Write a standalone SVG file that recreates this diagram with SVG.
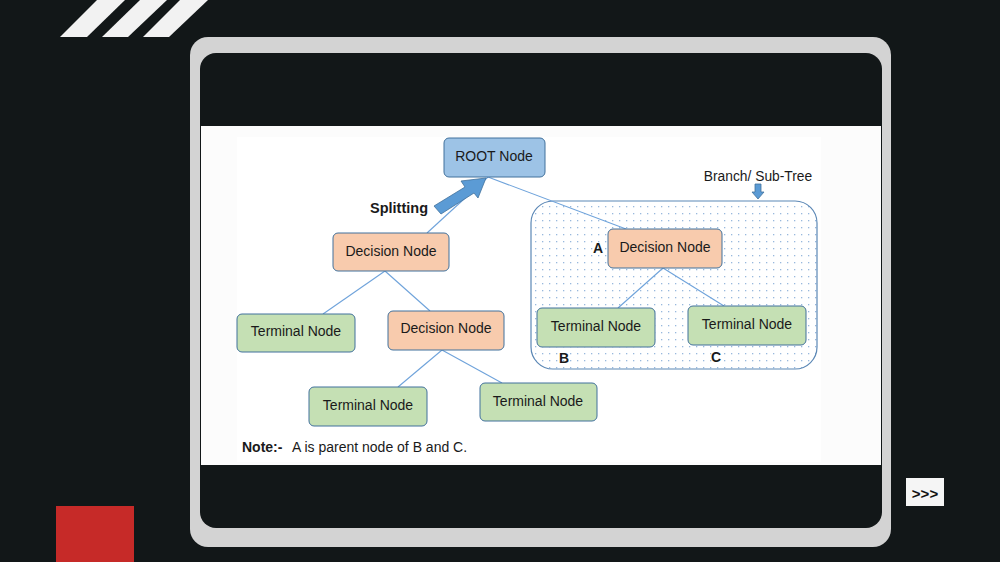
<svg xmlns="http://www.w3.org/2000/svg" width="1000" height="562" viewBox="0 0 1000 562">
<defs>
<style>
text{font-family:"Liberation Sans",Arial,sans-serif;font-size:14px;fill:#1a1a1a}
.lbl{text-anchor:middle;dominant-baseline:central}
.bold{font-weight:bold}
.conn{stroke:#6fa3db;stroke-width:1.1;fill:none}
.root{fill:#9dc3e6;stroke:#41719c;stroke-width:1}
.dec{fill:#f8cbad;stroke:#41719c;stroke-width:1}
.term{fill:#c5e0b4;stroke:#41719c;stroke-width:1}
.blue{fill:#5b9bd5;stroke:#41719c;stroke-width:0.8}
</style>
<pattern id="dots" width="7" height="7" patternUnits="userSpaceOnUse">
<rect x="3" y="3" width="1.3" height="1.3" fill="#98b8dd"/>
</pattern>
</defs>
<rect width="1000" height="562" fill="#121718"/>
<g id="stripes" fill="#f2f2f2">
<polygon points="60,37 87,37 125,0 97,0"/>
<polygon points="102,37 128,37 167,0 140,0"/>
<polygon points="143,37 169,37 208,0 180,0"/>
</g>
<rect x="56" y="506" width="78" height="56" fill="#c62a28"/>
<g id="button">
<rect x="906" y="478" width="38" height="28" fill="#f5f5f5"/>
<text x="925" y="493" class="lbl bold" style="font-size:15px;fill:#111">&gt;&gt;&gt;</text>
</g>
<g id="frame">
<rect x="190" y="37" width="701" height="510" rx="18" fill="#d3d3d3"/>
<rect x="200" y="53" width="682" height="475" rx="16" fill="#121718"/>
<rect x="201" y="126" width="680" height="339" fill="#fcfcfc"/>
<rect x="237" y="137" width="584" height="325" fill="#ffffff"/>
</g>
<g id="subtree">
<rect x="531" y="201" width="286" height="168" rx="22" fill="#ffffff"/>
<rect x="531" y="201" width="286" height="168" rx="22" fill="url(#dots)" stroke="#5b87b5" stroke-width="1.2"/>
</g>
<g id="connectors">
<line class="conn" x1="488" y1="177" x2="427" y2="233"/>
<line class="conn" x1="488" y1="177" x2="626" y2="229"/>
<line class="conn" x1="385" y1="271" x2="323" y2="314"/>
<line class="conn" x1="385" y1="271" x2="430" y2="311"/>
<line class="conn" x1="442" y1="350" x2="398" y2="387"/>
<line class="conn" x1="442" y1="350" x2="502" y2="383"/>
<line class="conn" x1="663" y1="268" x2="618" y2="308"/>
<line class="conn" x1="663" y1="268" x2="724" y2="306"/>
</g>
<g id="splitting-arrow">
<polygon class="blue" points="434,206 465,187 461,181 486,178 478,198 474,193 441,214"/>
<text x="370" y="213" class="bold" style="font-size:14.5px">Splitting</text>
</g>
<g id="branch-arrow">
<polygon class="blue" points="755,184 761,184 761,192 764,192 758,199 752,192 755,192"/>
<text x="758" y="181" style="font-size:13.8px" text-anchor="middle">Branch/ Sub-Tree</text>
</g>
<g id="root">
<rect class="root" x="444" y="138" width="101" height="39" rx="5"/>
<text class="lbl" x="494" y="156">ROOT Node</text>
</g>
<g id="decision1">
<rect class="dec" x="333" y="233" width="116" height="38" rx="5"/>
<text class="lbl" x="391" y="251">Decision Node</text>
</g>
<g id="terminal1">
<rect class="term" x="237" y="314" width="118" height="38" rx="5"/>
<text class="lbl" x="296" y="331">Terminal Node</text>
</g>
<g id="decision2">
<rect class="dec" x="388" y="311" width="116" height="39" rx="5"/>
<text class="lbl" x="446" y="328">Decision Node</text>
</g>
<g id="terminal2">
<rect class="term" x="309" y="387" width="118" height="39" rx="5"/>
<text class="lbl" x="368" y="405">Terminal Node</text>
</g>
<g id="terminal3">
<rect class="term" x="480" y="383" width="117" height="38" rx="5"/>
<text class="lbl" x="538" y="401">Terminal Node</text>
</g>
<g id="decisionA">
<rect class="dec" x="608" y="229" width="114" height="39" rx="5"/>
<text class="lbl" x="665" y="247">Decision Node</text>
<text class="lbl bold" x="598" y="248">A</text>
</g>
<g id="terminalB">
<rect class="term" x="537" y="308" width="118" height="39" rx="5"/>
<text class="lbl" x="596" y="326">Terminal Node</text>
<text class="lbl bold" x="564" y="358">B</text>
</g>
<g id="terminalC">
<rect class="term" x="688" y="306" width="118" height="39" rx="5"/>
<text class="lbl" x="747" y="324">Terminal Node</text>
<text class="lbl bold" x="716" y="357">C</text>
</g>
<g id="note">
<text x="242" y="452"><tspan class="bold">Note:-</tspan><tspan x="292">A is parent node of B and C.</tspan></text>
</g>
</svg>
